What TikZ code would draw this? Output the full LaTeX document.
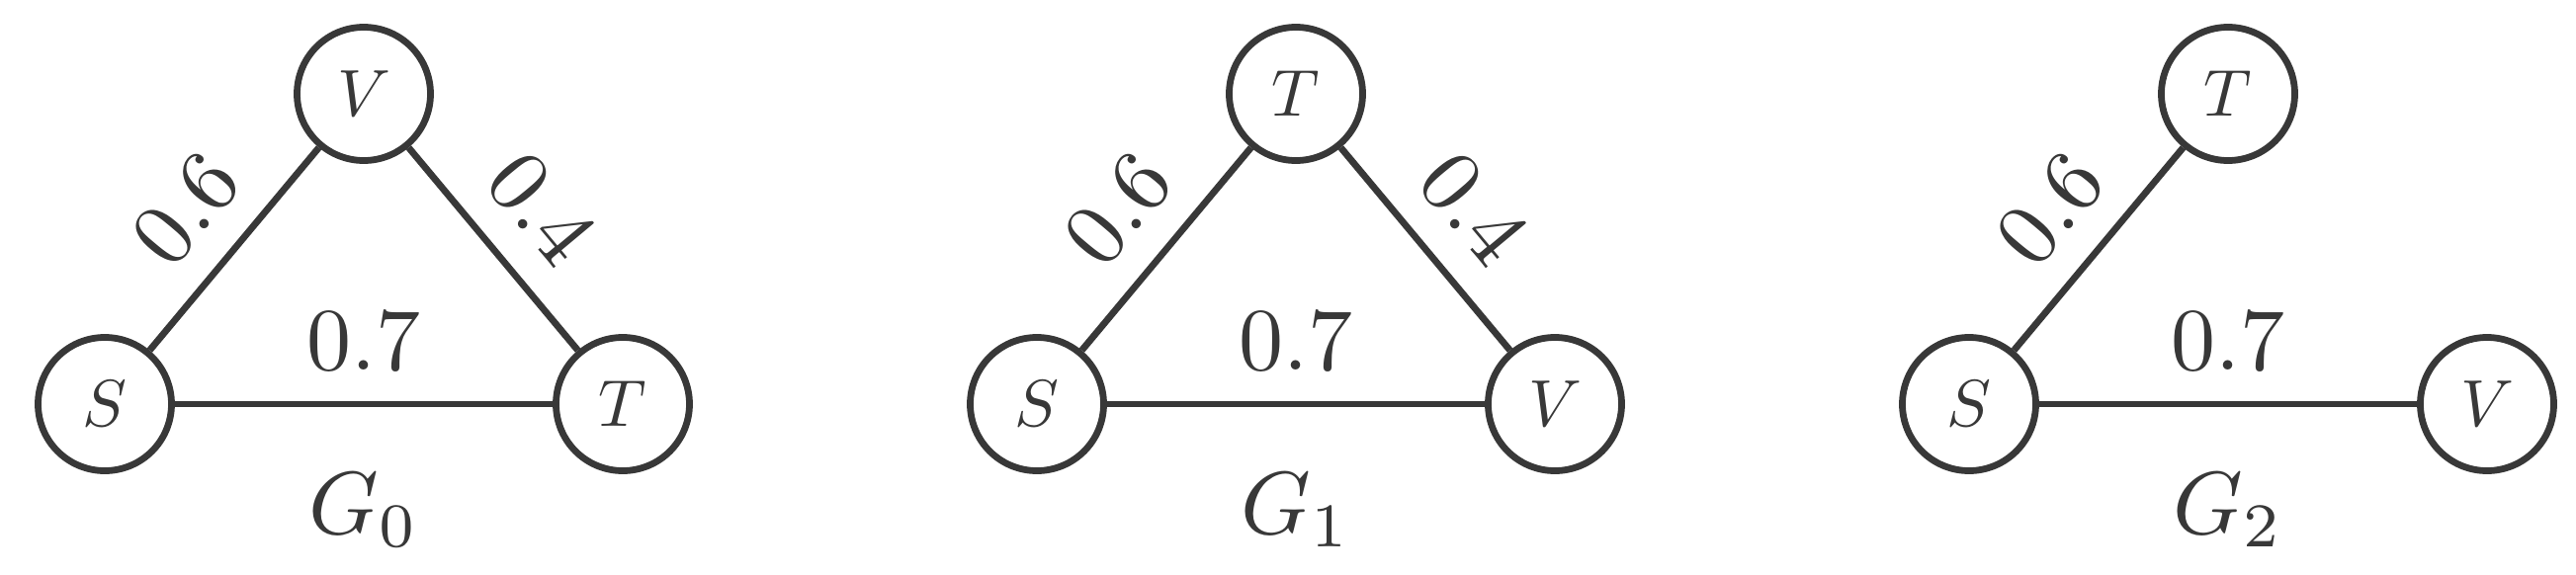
\documentclass[tikz,border=0pt]{standalone}
\usepackage{graphicx}
\definecolor{ink}{RGB}{56,56,56}
\newcommand{\nodetxt}[1]{\scalebox{1.675}{$#1$}}
\newcommand{\labtxt}[1]{\scalebox{2.25}{$#1$}}
\begin{document}
\begin{tikzpicture}[x=0.25pt,y=0.25pt,
  vert/.style={circle, draw=ink, line width=1.7pt, minimum size=33.75pt, inner sep=0pt, text=ink},
  edge/.style={draw=ink, line width=1.7pt},
  wlabel/.style={text=ink, inner sep=0pt, sloped, above=7.75pt},
  glabel/.style={text=ink, inner sep=0pt, anchor=base}]
\useasboundingbox (0,0) rectangle (2606,581);
% G0
\node[vert] (s0) at (106,172) {\nodetxt{S}};
\node[vert] (v0) at (368,486) {\nodetxt{V}};
\node[vert] (t0) at (630,172) {\nodetxt{T}};
\draw[edge] (s0) -- node[wlabel]{\labtxt{0.6}} (v0);
\draw[edge] (v0) -- node[wlabel]{\labtxt{0.4}} (t0);
\draw[edge] (s0) -- node[wlabel]{\labtxt{0.7}} (t0);
\node[glabel] (g0) at (368,41) {\labtxt{G_0}};
% G1
\node[vert] (s1) at (1049,172) {\nodetxt{S}};
\node[vert] (t1) at (1311,486) {\nodetxt{T}};
\node[vert] (v1) at (1573,172) {\nodetxt{V}};
\draw[edge] (s1) -- node[wlabel]{\labtxt{0.6}} (t1);
\draw[edge] (t1) -- node[wlabel]{\labtxt{0.4}} (v1);
\draw[edge] (s1) -- node[wlabel]{\labtxt{0.7}} (v1);
\node[glabel] (g1) at (1311,41) {\labtxt{G_1}};
% G2
\node[vert] (s2) at (1992,172) {\nodetxt{S}};
\node[vert] (t2) at (2254,486) {\nodetxt{T}};
\node[vert] (v2) at (2516,172) {\nodetxt{V}};
\draw[edge] (s2) -- node[wlabel]{\labtxt{0.6}} (t2);
\draw[edge] (s2) -- node[wlabel]{\labtxt{0.7}} (v2);
\node[glabel] (g2) at (2254,41) {\labtxt{G_2}};
\end{tikzpicture}
\end{document}
